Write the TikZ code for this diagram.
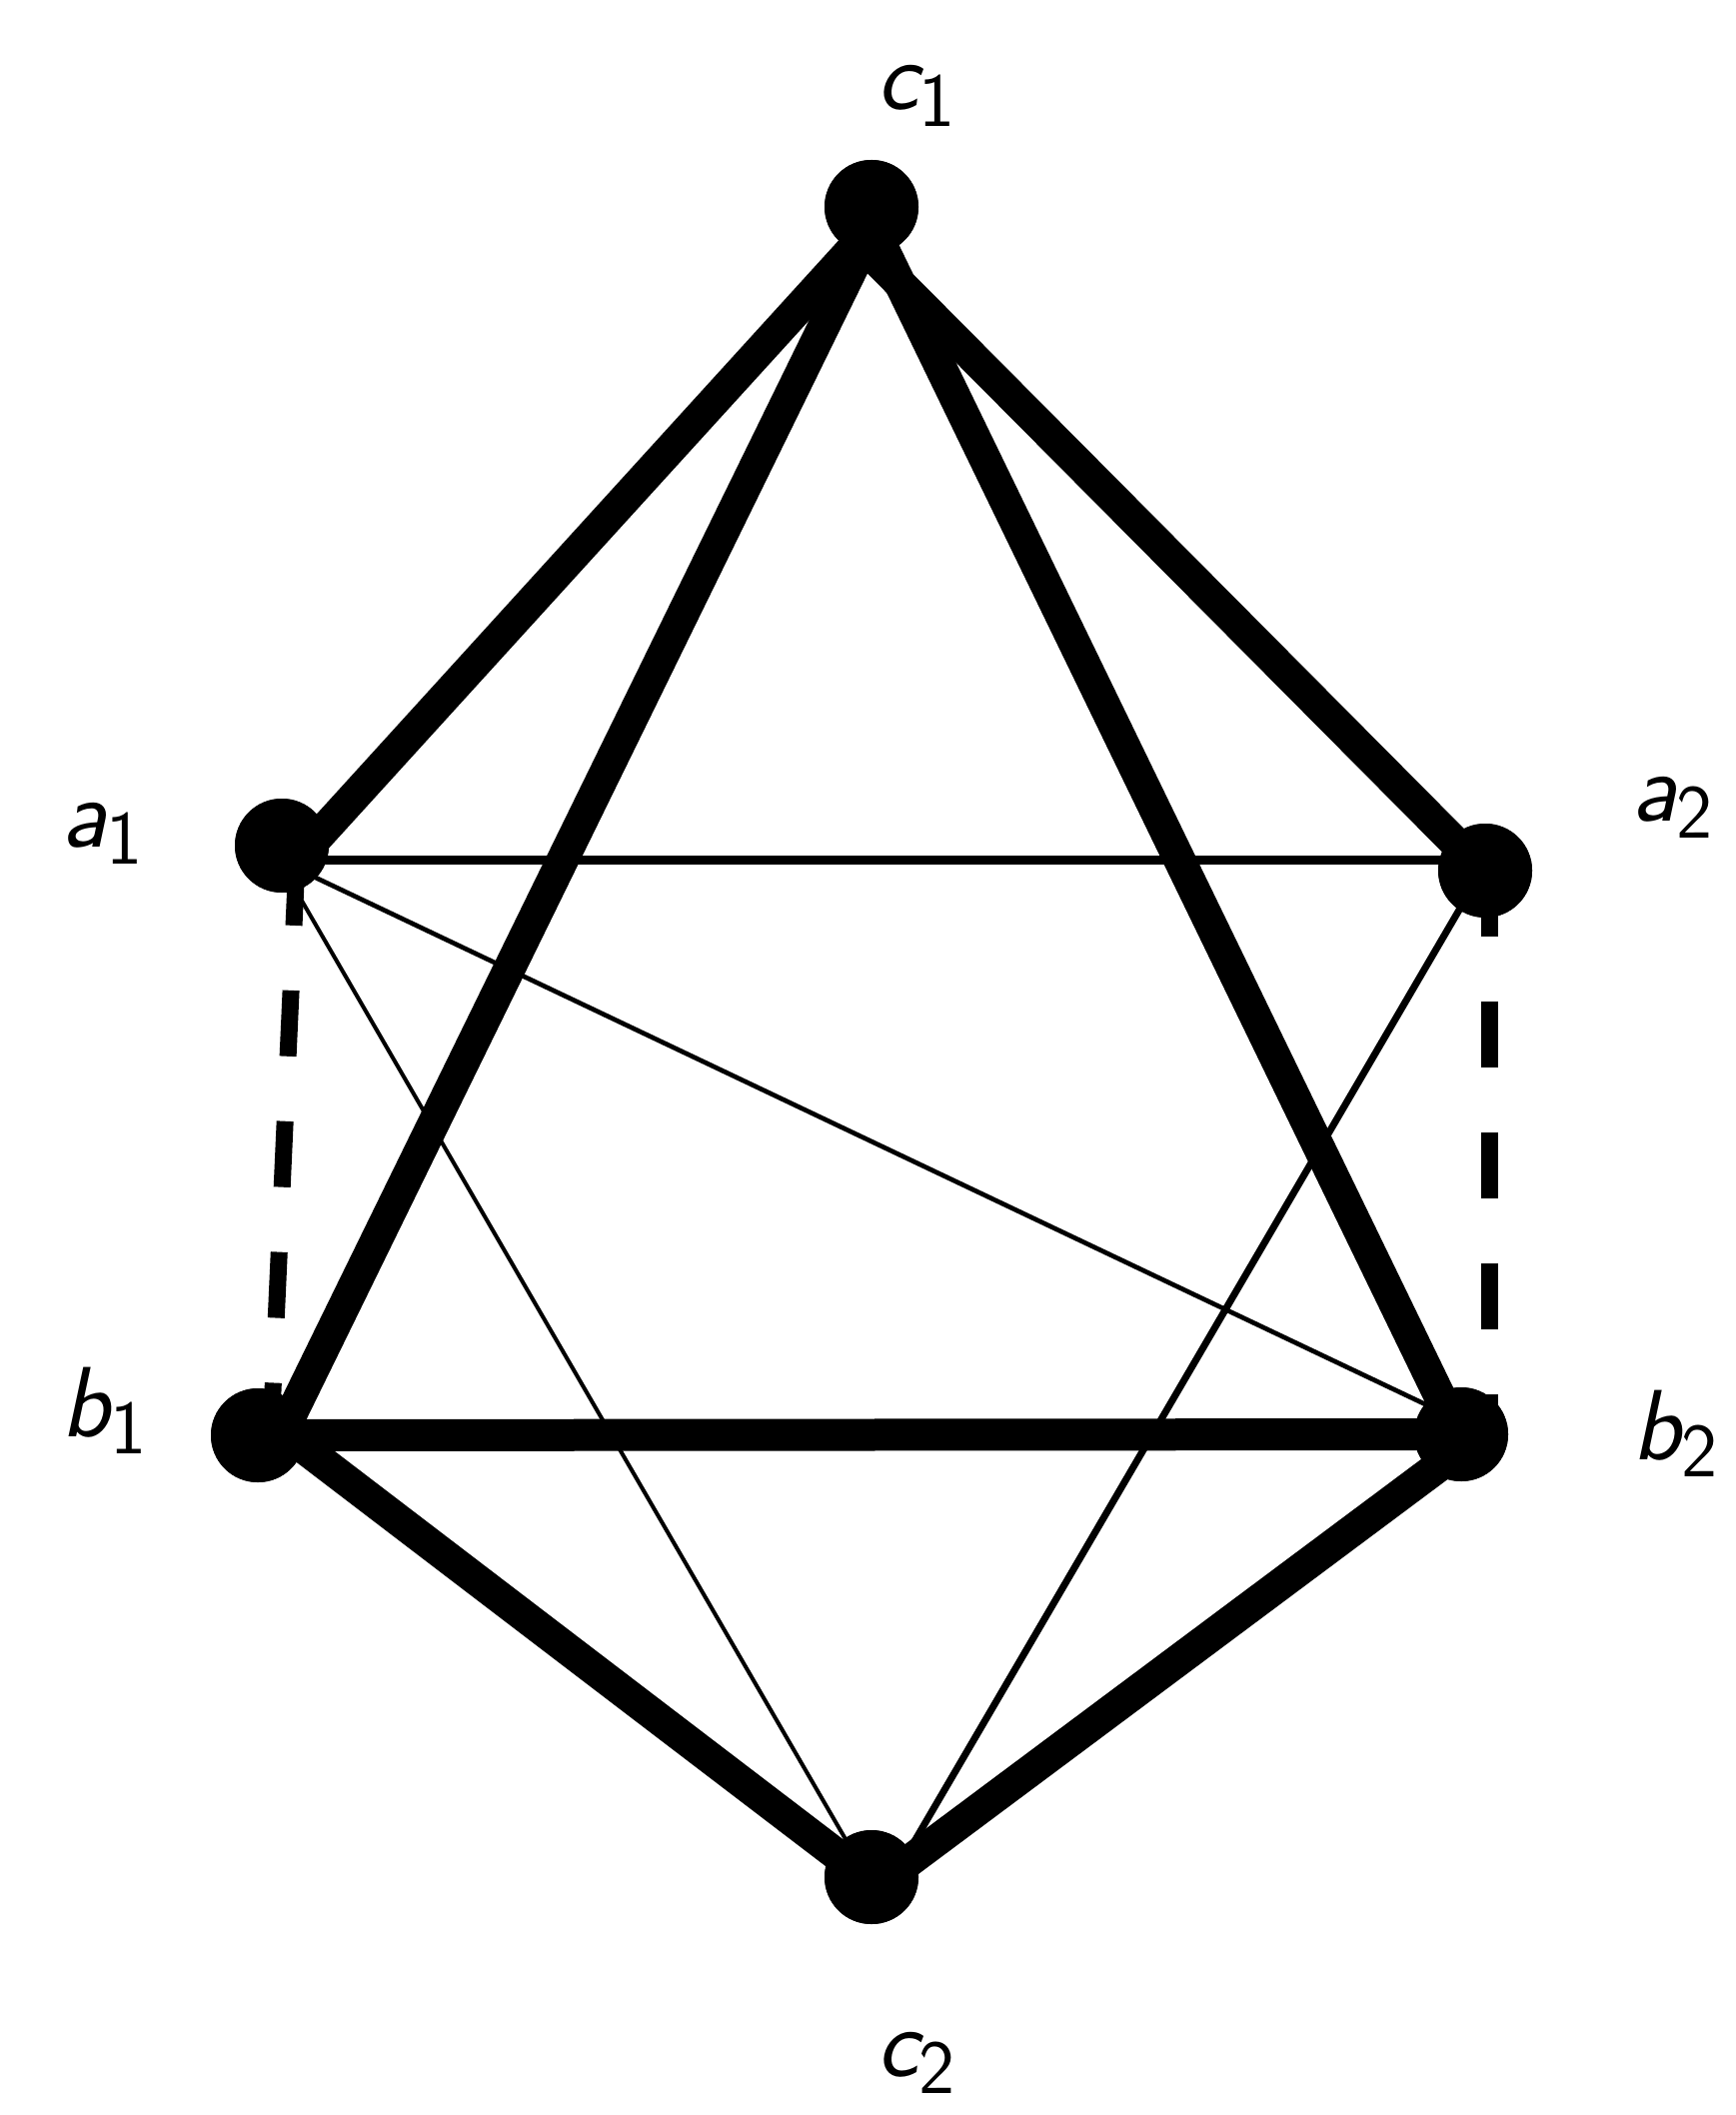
\documentclass[tikz,border=0pt]{standalone}
\usetikzlibrary{calc}
\newcommand\vlab[2]{{\sffamily\fontsize{30}{36}\selectfont\itshape #1}\raisebox{-5.1pt}{\sffamily\fontsize{23}{23}\selectfont #2}}
\begin{document}
\begin{tikzpicture}[x=0.3pt,y=-0.3pt,
  vertex/.style={circle,fill=black,inner sep=0pt,minimum size=28.2pt},
  thick edge/.style={line width=9.6pt},
  mid edge/.style={line width=2.7pt},
  thin edge/.style={line width=1.4pt},
  dash edge/.style={line width=5.1pt,dash pattern=on 19.8pt off 19.5pt},
  lab/.style={anchor=base west,inner sep=0pt}]
\useasboundingbox (0,0) rectangle (1736,2116);
% vertices
\node[vertex] (c1) at (872,207) {};
\node[vertex] (a1) at (282,846) {};
\node[vertex] (a2) at (1486,871) {};
\node[vertex] (b1) at (258,1436) {};
\node[vertex] (b2) at (1462,1435) {};
\node[vertex] (c2) at (872,1878) {};
% edges
\draw[thick edge] ($(c1)+(1,20)$) -- ($(a1)+(15,14)$);
\draw[thick edge] ($(c1)+(1,20)$) -- ($(b1)+(23,0)$);
\draw[thick edge] ($(c1)+(1,20)$) -- ($(b2)+(-3,0)$);
\draw[thick edge] ($(c1)+(1,49)$) -- ($(a2)+(-4,-2)$);
\draw[thick edge] (b1.center) -- (b2.center);
\draw[thick edge] ($(b1)+(14,-12)$) -- ($(c2)+(0,4)$);
\draw[thick edge] ($(b2)+(0,15)$) -- ($(c2)+(0,12)$);
\draw[mid edge] ($(a1)+(0,14)$) -- ($(a2)+(0,-11)$);
\draw[thin edge] ($(a1)+(0,16)$) -- ($(b2)+(0,-13)$);
\draw[line width=1.2pt] ($(a1)+(-12,0)$) -- ($(c2)+(-4,0)$);
\draw[line width=2.1pt] ($(a2)+(-3,0)$) -- ($(c2)+(22,0)$);
\draw[dash edge] ($(a1)+(15,14)$) -- ($(b1)+(13,0)$);
\draw[dash edge] ($(a2)+(4,0)$) -- ($(b2)+(28,0)$);
% redraw vertices on top
\foreach \v in {c1,a1,a2,b1,b2,c2} \fill (\v) circle (14.1pt);
% labels
\node[lab] (lc1) at (877,110) {\vlab{c}{1}};
\node[lab] (la1) at (61,847) {\vlab{a}{1}};
\node[lab] (la2) at (1632,822) {\vlab{a}{2}};
\node[lab] (lb1) at (61,1437) {\vlab{b}{1}};
\node[lab] (lb2) at (1633,1460) {\vlab{b}{2}};
\node[lab] (lc2) at (877,2077) {\vlab{c}{2}};
\end{tikzpicture}
\end{document}
